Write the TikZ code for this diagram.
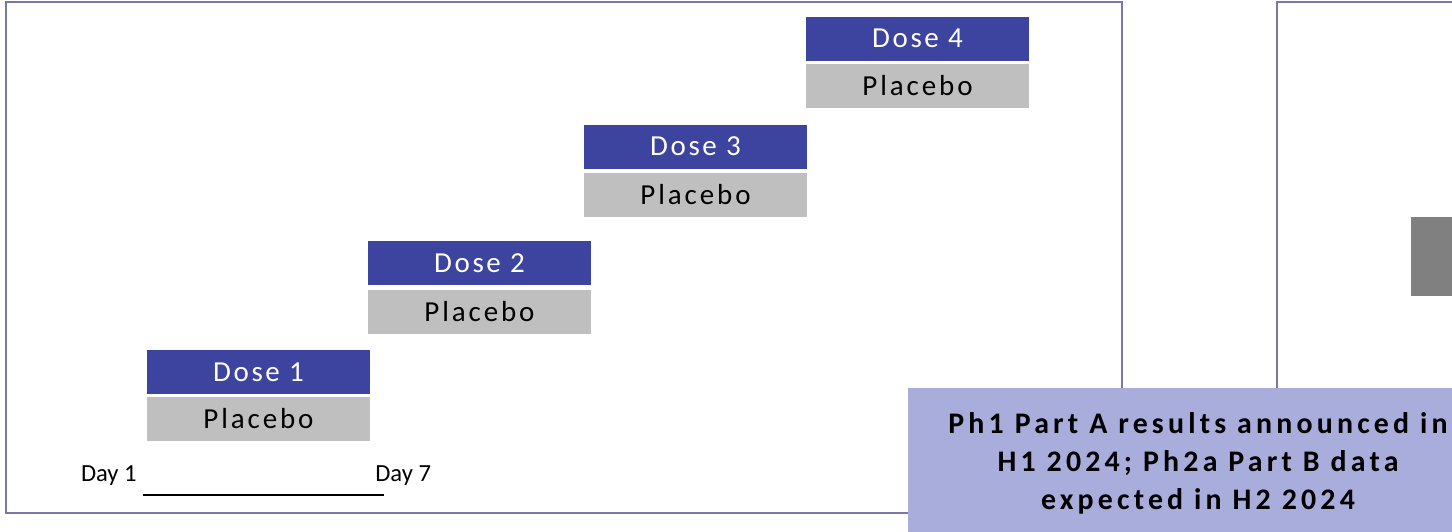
\documentclass[tikz,border=0pt]{standalone}
\usepackage{fontspec}
\setmainfont{Carlito}
\usepackage{tikz}
\usetikzlibrary{positioning}

\definecolor{doseblue}{RGB}{60,68,160}
\definecolor{placegrey}{RGB}{191,191,191}
\definecolor{framecol}{RGB}{120,120,170}
\definecolor{notelilac}{RGB}{169,173,220}
\definecolor{blockgrey}{RGB}{128,128,128}

\tikzset{
 dosebox/.style={fill=doseblue,text=white,minimum width=223*0.02cm,minimum height=44*0.02cm,
   inner sep=0pt,font=\fontsize{16.5}{19}\selectfont\addfontfeatures{LetterSpace=9}},
 placebox/.style={fill=placegrey,text=black,minimum width=223*0.02cm,minimum height=44*0.02cm,
   inner sep=0pt,font=\fontsize{16.5}{19}\selectfont\addfontfeatures{LetterSpace=10}},
 daylabel/.style={inner sep=0pt,font=\fontsize{14}{17}\selectfont}
}

\begin{document}
\begin{tikzpicture}[x=0.02cm,y=-0.02cm]
 \useasboundingbox (0,0) rectangle (1452,531);
 \clip (0,0) rectangle (1452,531);
 % frames
 \draw[framecol,line width=0.8pt] (6,2) rectangle (1122,513);
 \draw[framecol,line width=0.8pt] (1277,2) rectangle (1520,420);
 \fill[blockgrey] (1411,217) rectangle (1520,296);
 % dose steps
 \node[dosebox] (dose1) at (258.5,372) {Dose 1};
 \node[placebox] (plac1) at (258.5,419) {Placebo};
 \node[dosebox] (dose2) at (479.5,263) {Dose 2};
 \node[placebox] (plac2) at (479.5,311.5) {Placebo};
 \node[dosebox] (dose3) at (695.5,146.5) {Dose 3};
 \node[placebox] (plac3) at (695.5,195) {Placebo};
 \node[dosebox] (dose4) at (917.5,38.5) {Dose 4};
 \node[placebox] (plac4) at (917.5,86) {Placebo};
 % days
 \node[daylabel,anchor=east] (day1) at (137,476) {Day 1};
 \node[daylabel,anchor=west] (day7) at (375,476) {Day 7};
 \coordinate (t1) at (143,495);
 \coordinate (t7) at (384,495);
 \draw[line width=1.2pt] (t1) -- (t7);
 % note
 \fill[notelilac] (908,388) rectangle (1520,540);
 \node[align=center,inner sep=0pt,font=\fontsize{17}{21.5}\selectfont\bfseries\addfontfeatures{LetterSpace=14}] (note) at (1198,463.5)
  {Ph1 Part A results announced in\\H1 2024; Ph2a Part B data\\expected in H2 2024};
\end{tikzpicture}
\end{document}
